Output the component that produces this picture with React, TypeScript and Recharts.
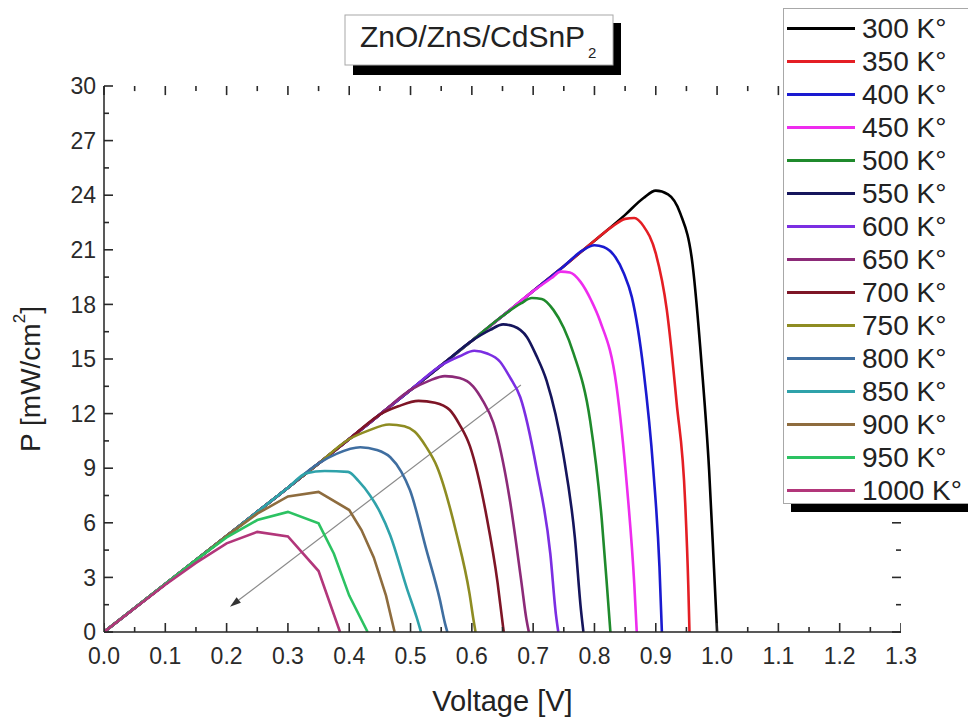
import React from 'react';
import { LineChart, Line, XAxis, YAxis, Legend, ReferenceLine } from 'recharts';

const FONT = '"Liberation Sans", Arial, Helvetica, sans-serif';

// ---- axis ticks ----
const voltageTicks = [0, 0.1, 0.2, 0.3, 0.4, 0.5, 0.6, 0.7, 0.8, 0.9, 1.0, 1.1, 1.2, 1.3];
const voltageMinorTicks = [0.05, 0.15, 0.25, 0.35, 0.45, 0.55, 0.65, 0.75, 0.85, 0.95, 1.05, 1.15, 1.25];
const powerTicks = [0, 3, 6, 9, 12, 15, 18, 21, 24, 27, 30];
const powerMinorTicks = [1.5, 4.5, 7.5, 10.5, 13.5, 16.5, 19.5, 22.5, 25.5, 28.5];

// ---- series names & colours ----
const temperatures = ['300 K°', '350 K°', '400 K°', '450 K°', '500 K°', '550 K°', '600 K°', '650 K°', '700 K°', '750 K°', '800 K°', '850 K°', '900 K°', '950 K°', '1000 K°'];
const colors = ['#000000', '#e41e24', '#1a1ad0', '#ee2cee', '#1f8a2c', '#15155c', '#7b2ee2', '#8c2a78', '#7e1526', '#8e8c22', '#3f6ea0', '#2fa2aa', '#8e6c3e', '#2cc262', '#b2367a'];

// ---- shared rising part (common envelope) ----
const rise: [number, number][] = [
  [0, 0], [0.05, 1.32], [0.1, 2.64], [0.15, 3.96], [0.2, 5.28], [0.25, 6.6], [0.3, 7.93],
  [0.35, 9.26], [0.4, 10.6], [0.45, 11.95], [0.5, 13.3], [0.55, 14.65], [0.6, 16.0],
  [0.65, 17.36], [0.7, 18.73], [0.75, 20.1], [0.8, 21.5], [0.85, 22.92],
];
const upTo = (limit: number) => rise.filter(([v]) => v <= limit + 1e-9);

const tail300: [number, number][] = [[0.88, 23.85], [0.9, 24.25], [0.92, 24.05], [0.94, 23.0], [0.96, 20.2], [0.975, 14.6], [0.987, 8.9], [0.995, 3.5], [1.0, 0]];
const tail350: [number, number][] = [[0.83, 22.3], [0.85, 22.7], [0.865, 22.75], [0.88, 22.3], [0.9, 20.8], [0.918, 17.7], [0.934, 12.6], [0.948, 7.1], [0.953, 2.6], [0.955, 0]];
const tail400: [number, number][] = [[0.78, 20.95], [0.8, 21.25], [0.815, 21.15], [0.834, 20.6], [0.848, 19.7], [0.861, 18.4], [0.88, 14.4], [0.896, 8.9], [0.906, 3.6], [0.91, 0]];
const tail450: [number, number][] = [[0.73, 19.45], [0.745, 19.8], [0.76, 19.75], [0.777, 19.25], [0.795, 18.2], [0.809, 17.1], [0.836, 13.5], [0.853, 8.0], [0.865, 2.6], [0.869, 0]];
const tail500: [number, number][] = [[0.68, 18.05], [0.698, 18.35], [0.714, 18.3], [0.733, 17.7], [0.75, 16.7], [0.766, 15.3], [0.793, 11.6], [0.812, 6.15], [0.822, 1.8], [0.826, 0]];
const tail550: [number, number][] = [[0.63, 16.6], [0.651, 16.9], [0.668, 16.8], [0.69, 16.2], [0.705, 15.2], [0.722, 13.8], [0.749, 9.8], [0.768, 5.2], [0.778, 1.2], [0.782, 0]];
const tail600: [number, number][] = [[0.58, 15.15], [0.604, 15.45], [0.625, 15.3], [0.646, 14.85], [0.662, 14.0], [0.679, 12.9], [0.706, 8.9], [0.728, 4.3], [0.737, 1.0], [0.741, 0]];
const tail650: [number, number][] = [[0.53, 13.8], [0.556, 14.06], [0.58, 13.95], [0.602, 13.5], [0.618, 12.7], [0.635, 11.5], [0.662, 7.25], [0.681, 2.7], [0.689, 0.7], [0.693, 0]];
const tail700: [number, number][] = [[0.48, 12.4], [0.513, 12.7], [0.54, 12.6], [0.564, 12.2], [0.58, 11.4], [0.597, 10.2], [0.624, 6.35], [0.642, 2.7], [0.649, 0.8], [0.652, 0]];
const tail750: [number, number][] = [[0.43, 11.05], [0.465, 11.4], [0.49, 11.3], [0.507, 11.0], [0.525, 10.2], [0.543, 9.1], [0.575, 5.4], [0.596, 2.15], [0.603, 0.6], [0.606, 0]];
const tail800: [number, number][] = [[0.38, 9.8], [0.418, 10.15], [0.445, 10.0], [0.467, 9.6], [0.485, 8.8], [0.499, 7.8], [0.526, 4.5], [0.548, 1.75], [0.556, 0.5], [0.56, 0]];
const tail850: [number, number][] = [[0.33, 8.72], [0.36, 8.85], [0.398, 8.8], [0.415, 8.3], [0.434, 7.5], [0.45, 6.6], [0.467, 5.3], [0.494, 2.4], [0.51, 0.8], [0.517, 0]];
const series900: [number, number][] = [[0, 0], [0.05, 1.32], [0.1, 2.64], [0.15, 3.96], [0.2, 5.28], [0.25, 6.5], [0.3, 7.45], [0.35, 7.7], [0.4, 6.7], [0.42, 5.6], [0.44, 4.1], [0.46, 2.0], [0.474, 0]];
const series950: [number, number][] = [[0, 0], [0.05, 1.32], [0.1, 2.64], [0.15, 3.96], [0.2, 5.2], [0.25, 6.15], [0.3, 6.6], [0.35, 5.97], [0.375, 4.3], [0.4, 2.0], [0.43, 0]];
const series1000: [number, number][] = [[0, 0], [0.05, 1.3], [0.1, 2.6], [0.15, 3.8], [0.2, 4.87], [0.25, 5.5], [0.3, 5.25], [0.35, 3.35], [0.385, 0]];

const seriesValues: [number, number][][] = [
  [...upTo(0.85), ...tail300],
  [...upTo(0.8), ...tail350],
  [...upTo(0.75), ...tail400],
  [...upTo(0.7), ...tail450],
  [...upTo(0.65), ...tail500],
  [...upTo(0.6), ...tail550],
  [...upTo(0.55), ...tail600],
  [...upTo(0.5), ...tail650],
  [...upTo(0.45), ...tail700],
  [...upTo(0.4), ...tail750],
  [...upTo(0.35), ...tail800],
  [...upTo(0.3), ...tail850],
  series900,
  series950,
  series1000,
];
const smoothSeries = [true, true, true, true, true, true, true, true, true, true, true, true, false, false, false];

// arrow annotation (data coordinates)
const arrowSegment = [{ x: 0.68, y: 13.57 }, { x: 0.2055, y: 1.39 }];

const X_MIN = 0;
const X_MAX = 1.3;
const Y_MIN = 0;
const Y_MAX = 30;

// inward tick lengths expressed in axis units (about 9px major / 5px minor)
const TICK_LEN_P_MAJOR = 0.5;
const TICK_LEN_P_MINOR = 0.28;
const TICK_LEN_V_MAJOR = 0.0147;
const TICK_LEN_V_MINOR = 0.0082;
const TICK_PX_MAJOR = 9;
const TICK_PX_MINOR = 5;

const toPoints = (arr: [number, number][]) => arr.map(([v, p]) => ({ v, p }));

const TICK_COLOR = '#2a2a2a';
const BOTTOM_GAP = 16;
const LEFT_GAP = 8;

// bottom tick anchors (drawn as custom dots of an invisible series)
const bottomTickPoints = [
  ...voltageTicks.map((t) => ({ v: t, p: Y_MIN, major: true })),
  ...voltageMinorTicks.map((t) => ({ v: t, p: Y_MIN, major: false })),
].sort((a, b) => a.v - b.v);

const BottomTick = (props: any) => {
  const { x, y, payload } = props;
  return (
    <text x={x} y={y} dy="0.71em" textAnchor="middle" fontFamily={FONT} fontSize={23} fill={TICK_COLOR}>
      {Number(payload.value).toFixed(1)}
    </text>
  );
};

const LeftTick = (props: any) => {
  const { x, y, payload } = props;
  return (
    <text x={x} y={y} dy="0.36em" textAnchor="end" fontFamily={FONT} fontSize={23} fill={TICK_COLOR}>
      {String(payload.value)}
    </text>
  );
};

const BottomTickDot = (props: any) => {
  const { cx, cy, payload, index } = props;
  if (cx == null || cy == null) return <g key={`btd-${index}`} />;
  const len = payload && payload.major ? TICK_PX_MAJOR : TICK_PX_MINOR;
  return (
    <line
      key={`btd-${index}`}
      x1={cx}
      x2={cx}
      y1={cy}
      y2={cy - len}
      stroke={TICK_COLOR}
      strokeWidth={1.6}
    />
  );
};

const TickShape = (props: any) => {
  const { x1, y1, x2, y2 } = props;
  return <line x1={x1} y1={y1} x2={x2} y2={y2} stroke={TICK_COLOR} strokeWidth={1.6} />;
};

const ArrowShape = (props: any) => {
  const { x1, y1, x2, y2 } = props;
  const dx = x2 - x1;
  const dy = y2 - y1;
  const len = Math.sqrt(dx * dx + dy * dy) || 1;
  const ux = dx / len;
  const uy = dy / len;
  const bx = x2 - ux * 11;
  const by = y2 - uy * 11;
  const nx = -uy * 3.5;
  const ny = ux * 3.5;
  return (
    <g>
      <line x1={x1} y1={y1} x2={bx} y2={by} stroke="#8a8a8a" strokeWidth={1.2} />
      <polygon points={`${x2},${y2} ${bx + nx},${by + ny} ${bx - nx},${by - ny}`} fill="#333" />
    </g>
  );
};

const YTitle = (props: any) => {
  const vb = props.viewBox || { x: 0, y: 86, width: 104, height: 546 };
  const cx = vb.x + 30;
  const cy = vb.y + vb.height / 2 + 20;
  return (
    <text
      x={cx}
      y={cy}
      transform={`rotate(-90, ${cx}, ${cy})`}
      textAnchor="middle"
      dominantBaseline="central"
      fontFamily={FONT}
      fontSize={28}
      fill="#222"
    >
      <tspan>P [mW/cm</tspan>
      <tspan fontSize={17} dy={-11}>2</tspan>
      <tspan dy={11}>]</tspan>
    </text>
  );
};

const LegendBox = (props: any) => {
  const payload = (props.payload || [])
    .filter((e: any) => temperatures.indexOf(e.value) >= 0)
    .sort((a: any, b: any) => temperatures.indexOf(a.value) - temperatures.indexOf(b.value));
  return (
    <div
      style={{
        width: 200,
        height: 496,
        boxSizing: 'border-box',
        border: '1px solid #a8a8a8',
        background: '#fff',
        boxShadow: '8px 8px 0 #000',
        paddingTop: 3,
      }}
    >
      {payload.map((entry: any) => (
        <div key={entry.value} style={{ display: 'flex', alignItems: 'center', height: 33 }}>
          <div style={{ width: 68, height: 3, background: entry.color, marginLeft: 3 }} />
          <span
            style={{
              marginLeft: 7,
              fontSize: 28,
              fontFamily: FONT,
              color: '#222',
              lineHeight: '33px',
              whiteSpace: 'nowrap',
            }}
          >
            {entry.value}
          </span>
        </div>
      ))}
    </div>
  );
};

const axisStroke = { stroke: '#222', strokeWidth: 1.5 };

// inward ticks on top / left / right as reference segments
const tickSegments = () => {
  const segs: { key: string; segment: { x: number; y: number }[] }[] = [];
  voltageTicks.forEach((t) => {
    segs.push({ key: `top-major-${t}`, segment: [{ x: t, y: Y_MAX }, { x: t, y: Y_MAX - TICK_LEN_P_MAJOR }] });
  });
  voltageMinorTicks.forEach((t) => {
    segs.push({ key: `top-minor-${t}`, segment: [{ x: t, y: Y_MAX }, { x: t, y: Y_MAX - TICK_LEN_P_MINOR }] });
  });
  powerTicks.forEach((t) => {
    segs.push({ key: `left-major-${t}`, segment: [{ x: X_MIN, y: t }, { x: X_MIN + TICK_LEN_V_MAJOR, y: t }] });
    segs.push({ key: `right-major-${t}`, segment: [{ x: X_MAX, y: t }, { x: X_MAX - TICK_LEN_V_MAJOR, y: t }] });
  });
  powerMinorTicks.forEach((t) => {
    segs.push({ key: `left-minor-${t}`, segment: [{ x: X_MIN, y: t }, { x: X_MIN + TICK_LEN_V_MINOR, y: t }] });
    segs.push({ key: `right-minor-${t}`, segment: [{ x: X_MAX, y: t }, { x: X_MAX - TICK_LEN_V_MINOR, y: t }] });
  });
  return segs;
};

export default function App() {
  return (
    <div
      style={{
        position: 'absolute',
        left: 0,
        top: 0,
        width: 968,
        height: 719,
        overflow: 'hidden',
        background: '#fff',
        fontFamily: FONT,
      }}
    >
      <LineChart width={968} height={719} margin={{ top: 86, right: 67, bottom: 0, left: 0 }}>
        <XAxis
          xAxisId="x"
          dataKey="v"
          type="number"
          domain={[X_MIN, X_MAX]}
          allowDataOverflow
          ticks={voltageTicks}
          interval={0}
          height={87}
          tick={(p: any) => <BottomTick {...p} />}
          axisLine={axisStroke}
          tickLine={false}
          tickSize={0}
          tickMargin={BOTTOM_GAP}
          label={{ value: 'Voltage [V]', position: 'insideBottom', offset: 8, fill: '#222', fontSize: 29, fontFamily: FONT }}
        />
        <XAxis
          xAxisId="xTop"
          orientation="top"
          type="number"
          domain={[X_MIN, X_MAX]}
          allowDataOverflow
          ticks={voltageTicks}
          interval={0}
          height={0}
          tick={false}
          axisLine={axisStroke}
          tickLine={false}
        />
        <YAxis
          yAxisId="y"
          type="number"
          domain={[Y_MIN, Y_MAX]}
          allowDataOverflow
          ticks={powerTicks}
          interval={0}
          width={104}
          tick={(p: any) => <LeftTick {...p} />}
          axisLine={axisStroke}
          tickLine={false}
          tickSize={0}
          tickMargin={LEFT_GAP}
          label={{ content: (p: any) => <YTitle {...p} /> }}
        />
        <YAxis
          yAxisId="yRight"
          orientation="right"
          type="number"
          domain={[Y_MIN, Y_MAX]}
          allowDataOverflow
          ticks={powerTicks}
          interval={0}
          width={0}
          tick={false}
          axisLine={axisStroke}
          tickLine={false}
        />
        {tickSegments().map((s) => (
          <ReferenceLine
            key={s.key}
            xAxisId="x"
            yAxisId="y"
            segment={s.segment}
            ifOverflow="visible"
            shape={(p: any) => <TickShape {...p} />}
          />
        ))}
        <ReferenceLine
          xAxisId="x"
          yAxisId="y"
          segment={arrowSegment}
          ifOverflow="visible"
          shape={(p: any) => <ArrowShape {...p} />}
        />
        {seriesValues.map((vals, i) => (
          <Line
            key={temperatures[i]}
            name={temperatures[i]}
            data={toPoints(vals)}
            dataKey="p"
            xAxisId="x"
            yAxisId="y"
            type={smoothSeries[i] ? 'monotone' : 'linear'}
            stroke={colors[i]}
            strokeWidth={2.6}
            dot={false}
            activeDot={false}
            isAnimationActive={false}
          />
        ))}
        <Line
          key="bottom-ticks"
          name="bottom-ticks"
          data={bottomTickPoints}
          dataKey="p"
          xAxisId="x"
          yAxisId="y"
          type="linear"
          stroke="none"
          strokeWidth={0}
          dot={(p: any) => <BottomTickDot {...p} />}
          activeDot={false}
          legendType="none"
          isAnimationActive={false}
        />
        <Legend
          layout="vertical"
          align="center"
          verticalAlign="middle"
          content={(p: any) => <LegendBox {...p} />}
          wrapperStyle={{ left: 783, top: 8, width: 200, height: 496, right: 'auto', bottom: 'auto' }}
        />
      </LineChart>
      <svg
        width={968}
        height={100}
        style={{ position: 'absolute', left: 0, top: 0, pointerEvents: 'none' }}
      >
        <rect x={353} y={23} width={268} height={52} fill="#000" />
        <rect x={345} y={15} width={268} height={50} fill="#fff" stroke="#a8a8a8" strokeWidth={1} />
        <text x={360} y={47} fontFamily={FONT} fontSize={30} fill="#222">
          <tspan>ZnO/ZnS/CdSnP</tspan>
          <tspan fontSize={15} dx={3} dy={11}>2</tspan>
        </text>
      </svg>
    </div>
  );
}
